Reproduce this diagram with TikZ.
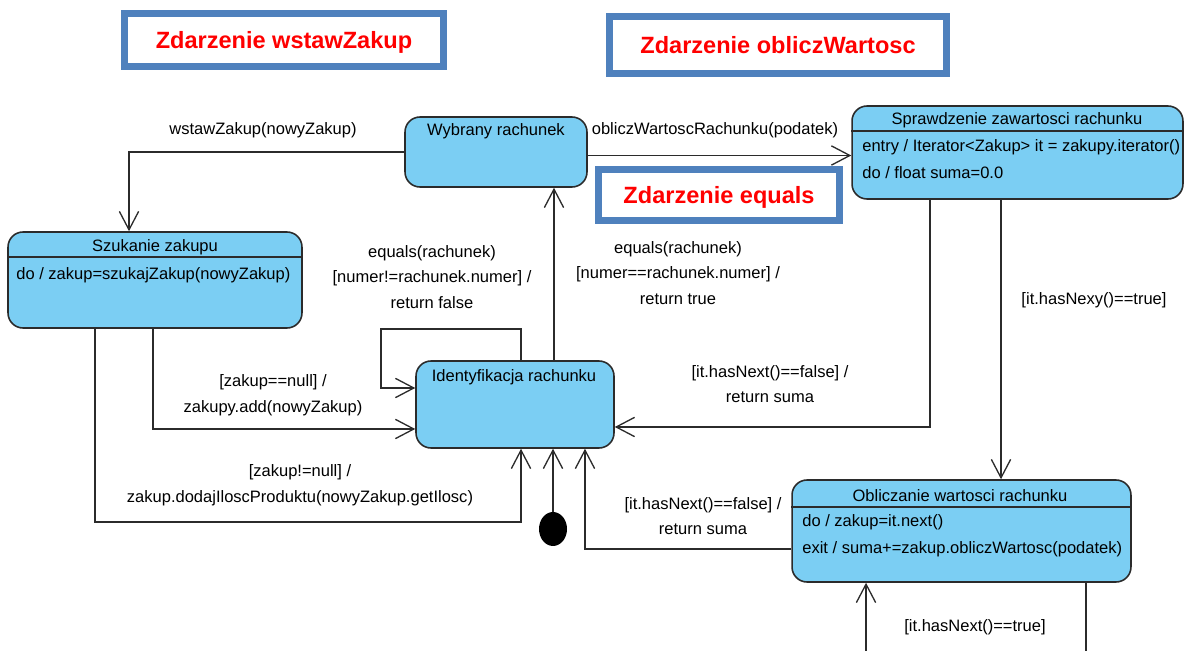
\documentclass[tikz,border=0pt]{standalone}
\usepackage{fontspec}
\setmainfont{Liberation Sans}
\usetikzlibrary{shapes.geometric, arrows.meta}
\definecolor{StateBlue}{HTML}{7BCEF3}
\definecolor{StateLine}{HTML}{2B2B2B}
\definecolor{HeadBlue}{HTML}{4F81BD}
\definecolor{HeadRed}{HTML}{FF0000}
\tikzset{
    % State boxes - rounded corners
    stbox/.style={
        rectangle,
        rounded corners=0.3cm,
        draw=StateLine,
        fill=StateBlue,
        line width=0.9pt,
        inner sep=0pt
    },
    divider/.style={
        draw=StateLine,
        line width=0.9pt
    },
    sttitle/.style={
        font=\fontsize{9.4}{11}\selectfont,
        inner sep=0pt
    },
    stbody/.style={
        font=\fontsize{9.4}{11}\selectfont,
        anchor=west,
        inner sep=0pt
    },
    guard/.style={
        font=\fontsize{9.4}{14.6}\selectfont,
        align=center,
        inner sep=0pt
    },
    % Event headers
    header/.style={
        rectangle,
        draw=HeadBlue,
        fill=white,
        line width=4pt,
        text=HeadRed,
        font=\fontsize{13.4}{16}\selectfont\bfseries,
        text depth=0pt,
        inner sep=0pt
    },
    startdot/.style={
        ellipse,
        fill=black,
        minimum width=0.56cm,
        minimum height=0.68cm,
        inner sep=0pt
    },
    % Transitions - open arrow heads
    trans/.style={
        -{Straight Barb[length=10.5pt, width=11pt]},
        line width=0.75pt,
        draw=StateLine
    }
}

\begin{document}
\begin{tikzpicture}[x=0.02cm, y=-0.02cm]
    \clip (0,0) rectangle (1187,651);

    % Event headers
    \node[header, minimum width=6.38cm, minimum height=1.06cm] (hWstaw) at (284,40) {Zdarzenie wstawZakup};
    \node[header, minimum width=6.76cm, minimum height=1.14cm] (hOblicz) at (778,45) {Zdarzenie obliczWartosc};

    % States
    \node[stbox, minimum width=3.64cm, minimum height=1.40cm] (wyb) at (496,152) {};
    \node[sttitle] (wybT) at (496,131) {Wybrany rachunek};

    \node[stbox, minimum width=5.88cm, minimum height=1.92cm] (szuk) at (155,280) {};
    \node[sttitle] (szukT) at (155,247) {Szukanie zakupu};
    \draw[divider] ([yshift=-0.52cm]szuk.north west) -- ([yshift=-0.52cm]szuk.north east);
    \node[stbody] (szukB) at (16,275) {do / zakup=szukajZakup(nowyZakup)};

    \node[stbox, minimum width=6.62cm, minimum height=1.86cm] (spr) at (1017.5,152.5) {};
    \node[sttitle] (sprT) at (1017,120) {Sprawdzenie zawartosci rachunku};
    \draw[divider] ([yshift=-0.52cm]spr.north west) -- ([yshift=-0.52cm]spr.north east);
    \node[stbody] (sprB1) at (862,147) {entry / Iterator<Zakup> it = zakupy.iterator()};
    \node[stbody] (sprB2) at (862,173) {do / float suma=0.0};

    \node[stbox, minimum width=3.96cm, minimum height=1.74cm] (ident) at (515,404.5) {};
    \node[sttitle] (identT) at (514,377) {Identyfikacja rachunku};

    \node[stbox, minimum width=6.78cm, minimum height=2.04cm] (obl) at (961.5,531) {};
    \node[sttitle] (oblT) at (960,496) {Obliczanie wartosci rachunku};
    \draw[divider] ([yshift=-0.56cm]obl.north west) -- ([yshift=-0.56cm]obl.north east);
    \node[stbody] (oblB1) at (802,522) {do / zakup=it.next()};
    \node[stbody] (oblB2) at (802,549) {exit / suma+=zakup.obliczWartosc(podatek)};

    \node[startdot] (start) at (553,529) {};

    % Header over the transitions
    \node[header, minimum width=4.82cm, minimum height=1.02cm] (hEquals) at (719,195) {Zdarzenie equals};

    % Transitions
    \draw[trans] (wyb.west) -| ([xshift=-0.52cm]szuk.north);
    \coordinate (oblA) at ([yshift=-0.07cm]wyb.east);
    \draw[trans] (oblA) -- (oblA -| spr.west);

    \coordinate (eqT) at ([xshift=0.78cm]ident.north);
    \draw[trans] (eqT) -- (eqT |- wyb.south);

    \coordinate (loopA) at (381,329);
    \draw[trans] ([xshift=0.12cm]ident.north) |- (loopA) |- ([yshift=0.33cm]ident.west);

    \draw[trans] ([xshift=-0.04cm]szuk.south) |- ([yshift=-0.49cm]ident.west);

    \coordinate (loopB) at (521,522);
    \draw[trans] ([xshift=-1.2cm]szuk.south) |- (loopB) -- (loopB |- ident.south);

    \draw[trans] (start) -- (start |- ident.south);

    \draw[trans] ([xshift=-1.75cm]spr.south) |- ([yshift=-0.45cm]ident.east);

    \coordinate (nxA) at ([xshift=-0.33cm]spr.south);
    \draw[trans] (nxA) -- (nxA |- obl.north);

    \draw[trans] ([yshift=-0.36cm]obl.west) -| ([xshift=1.4cm]ident.south);

    \coordinate (loopC) at (975,680);
    \draw[trans] ([xshift=2.49cm]obl.south) |- (loopC) -| ([xshift=-1.91cm]obl.south);

    % Labels
    \node[guard] (lWstaw) at (263,130) {wstawZakup(nowyZakup)};
    \node[guard] (lOblicz) at (715,130) {obliczWartoscRachunku(podatek)};
    \node[guard] (lEqTrue) at (678,273) {equals(rachunek)\\{}[numer==rachunek.numer] /\\return true};
    \node[guard] (lEqFalse) at (432,277) {equals(rachunek)\\{}[numer!=rachunek.numer] /\\return false};
    \node[guard] (lNull) at (273,395) {[zakup==null] /\\zakupy.add(nowyZakup)};
    \node[guard] (lNotNull) at (300,485) {[zakup!=null] /\\zakup.dodajIloscProduktu(nowyZakup.getIlosc)};
    \node[guard] (lFalseA) at (770,384) {[it.hasNext()==false] /\\return suma};
    \node[guard] (lNexy) at (1094,300) {[it.hasNexy()==true]};
    \node[guard] (lFalseB) at (703,516) {[it.hasNext()==false] /\\return suma};
    \node[guard] (lTrue) at (975,627) {[it.hasNext()==true]};
\end{tikzpicture}
\end{document}
